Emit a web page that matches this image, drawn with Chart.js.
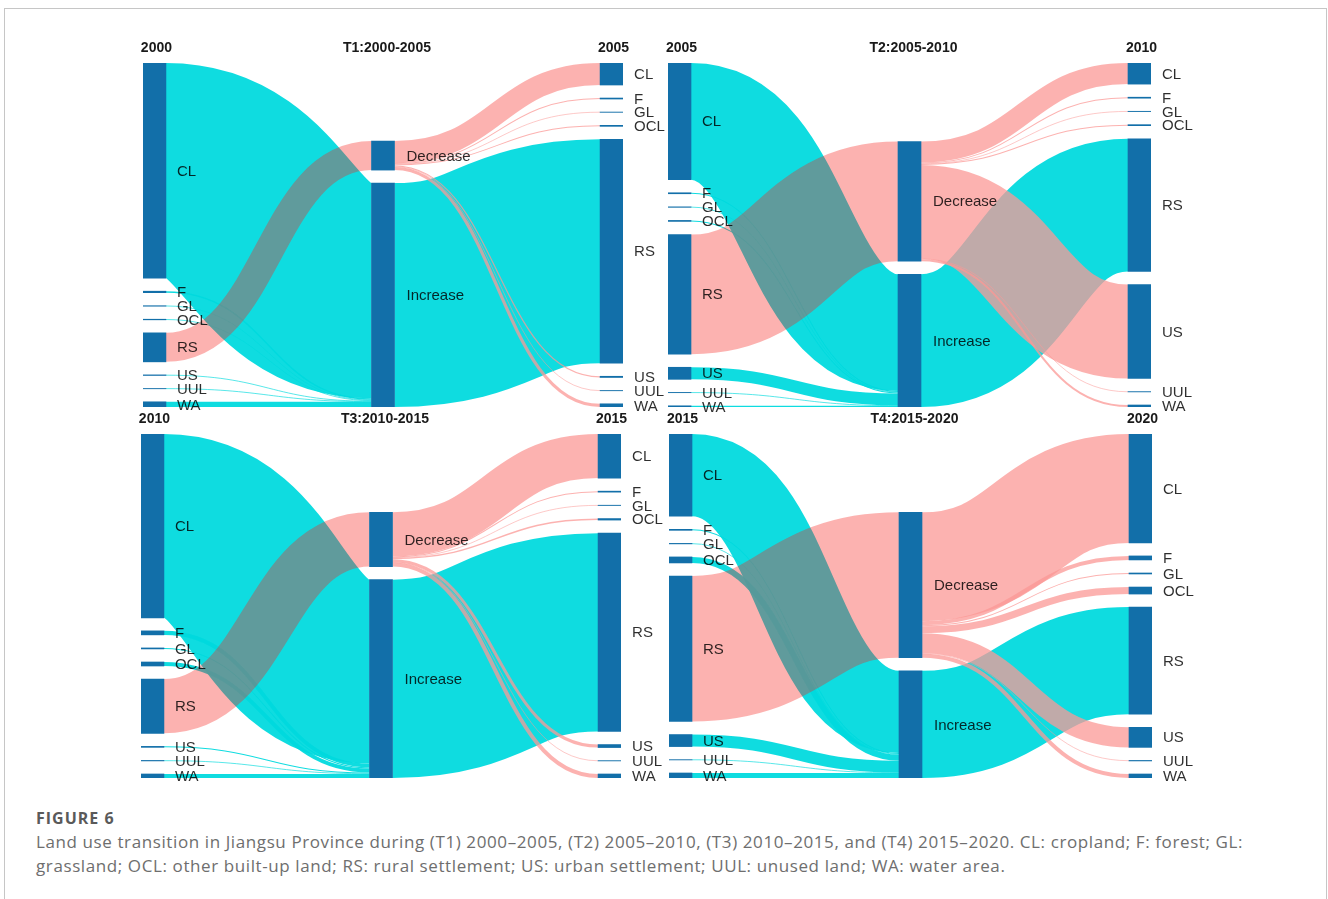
<!DOCTYPE html>
<html>
<head>
<meta charset="utf-8">
<script src="https://cdn.jsdelivr.net/npm/chart.js@4.4.1/dist/chart.umd.min.js"></script>
<style>
  body { margin: 0; background: #fff; width: 1328px; height: 899px; overflow: hidden; position: relative; }
  .frame { position: absolute; left: 4px; top: 8px; width: 1321px; height: 940px; border: 1px solid #c6c6c6; }
  canvas { position: absolute; }
  #c1 { left: 110px; top: 30px; }
  #c2 { left: 640px; top: 30px; }
  #c3 { left: 110px; top: 401px; }
  #c4 { left: 640px; top: 401px; }
  .fig { position: absolute; left: 36px; top: 810px; font-family: "Open Sans", sans-serif; font-weight: 700; font-size: 16px; line-height: 16px; letter-spacing: 1px; color: #5a5a5a; }
  .cap { position: absolute; left: 36px; top: 830px; font-family: "Open Sans", sans-serif; font-size: 17px; line-height: 24px; letter-spacing: 0.6px; color: #6e6e6e; white-space: nowrap; }
</style>
</head>
<body>
<div class="frame"></div>
<canvas id="c1" width="560" height="385"></canvas>
<canvas id="c2" width="580" height="385"></canvas>
<canvas id="c3" width="560" height="385"></canvas>
<canvas id="c4" width="580" height="385"></canvas>
<div class="fig">FIGURE 6</div>
<div class="cap">Land use transition in Jiangsu Province during (T1) 2000–2005, (T2) 2005–2010, (T3) 2010–2015, and (T4) 2015–2020. CL: cropland; F: forest; GL:<br>grassland; OCL: other built-up land; RS: rural settlement; US: urban settlement; UUL: unused land; WA: water area.</div>
<script>
// land types, same order in every column
var types = ['CL', 'F', 'GL', 'OCL', 'RS', 'US', 'UUL', 'WA'];
var middle = ['Decrease', 'Increase'];

// node sizes (start year column, end year column)
var t1Start = [215, 1.5, 0.5, 0.6, 29, 0.6, 0.3, 5.2];
var t1End   = [22, 1, 0.3, 1, 223.7, 1.2, 0.3, 3.2];
var t2Start = [116, 1, 0.5, 1, 119, 12, 0.3, 1.2];
var t2End   = [21, 1, 0.3, 1, 132, 93.4, 0.3, 2];
var t3Start = [183, 4, 1, 4, 54, 1, 0.5, 4];
var t3End   = [43.9, 1, 0.3, 1.5, 197.5, 3, 0.3, 4];
var t4Start = [82, 1, 0.5, 6, 145, 12, 0.3, 5];
var t4End   = [108.5, 4, 1, 7, 106.8, 20, 0.5, 4];

var panels = [
  { id: 'c1', title: 'T1:2000-2005', from: '2000', to: '2005', start: t1Start, end: t1End, pad: { left: 33, right: 47 } },
  { id: 'c2', title: 'T2:2005-2010', from: '2005', to: '2010', start: t2Start, end: t2End, pad: { left: 28, right: 69 } },
  { id: 'c3', title: 'T3:2010-2015', from: '2010', to: '2015', start: t3Start, end: t3End, pad: { left: 31, right: 49 } },
  { id: 'c4', title: 'T4:2015-2020', from: '2015', to: '2020', start: t4Start, end: t4End, pad: { left: 29, right: 68 } }
];

var gap = 13;
var RS = types.indexOf('RS');
var cyan = 'rgba(0,218,222,0.94)';
var pinkIn = 'rgba(246,35,29,0.35)';     // flows into Decrease
var pinkOut = 'rgba(251,152,150,0.75)';  // flows out of Decrease
var nodeColor = '#126fa9';

function sum(a) { return a.reduce(function(s, v) { return s + v; }, 0); }

function buildNodes(p) {
  var dec = 0, inc = 0, decOut = 0;
  p.start.forEach(function(v, i) { if (i === RS) dec += v; else inc += v; });
  p.end.forEach(function(v, i) { if (i !== RS) decOut += v; });
  dec = Math.max(dec, decOut);
  inc = Math.max(inc, p.end[RS]);
  var total = Math.max(sum(p.start) + 7 * gap, sum(p.end) + 7 * gap, dec + inc + gap);
  var nodes = [];
  var y = 0;
  p.start.forEach(function(v, i) { nodes.push({ x: 0, y: [y, y + v], name: types[i] }); y += v + gap; });
  var midTop = total - (dec + inc + gap);
  nodes.push({ x: 1, y: [midTop, midTop + dec], name: middle[0] });
  nodes.push({ x: 1, y: [midTop + dec + gap, total], name: middle[1] });
  y = 0;
  p.end.forEach(function(v, i) { nodes.push({ x: 2, y: [y, y + v], name: types[i] }); y += v + gap; });

  // links: start -> Decrease/Increase, Decrease/Increase -> end
  var links = [];
  var off = { 8: 0, 9: 0 };
  p.start.forEach(function(v, i) {
    var t = i === RS ? 8 : 9;
    links.push({ s: i, t: t, v: v, so: 0, to: off[t] });
    off[t] += v;
  });
  off = { 8: 0, 9: 0 };
  p.end.forEach(function(v, i) {
    var s = i === RS ? 9 : 8;
    links.push({ s: s, t: 10 + i, v: v, so: off[s], to: 0 });
    off[s] += v;
  });
  return { nodes: nodes, links: links, total: total };
}

function sankeyPlugin(g, p) {
  return {
    id: 'sankey',
    beforeDatasetsDraw: function(chart) {
      var ctx = chart.ctx;
      var ys = chart.scales.y;
      var els = chart.getDatasetMeta(0).data;
      ctx.save();
      ctx.lineCap = 'butt';
      // cyan links first, pink on top
      [9, 8].forEach(function(mid) {
        g.links.forEach(function(l) {
          if (l.s !== mid && l.t !== mid) return;
          var a = els[l.s], b = els[l.t];
          var x0 = a.x + a.width / 2, x1 = b.x - b.width / 2;
          var y0 = ys.getPixelForValue(g.nodes[l.s].y[0] + l.so + l.v / 2);
          var y1 = ys.getPixelForValue(g.nodes[l.t].y[0] + l.to + l.v / 2);
          var w = Math.abs(ys.getPixelForValue(l.v) - ys.getPixelForValue(0));
          var xm = (x0 + x1) / 2;
          ctx.beginPath();
          ctx.moveTo(x0, y0);
          ctx.bezierCurveTo(xm, y0, xm, y1, x1, y1);
          ctx.lineWidth = Math.max(w, 0.7);
          ctx.strokeStyle = mid === 9 ? cyan : (l.t === 8 ? pinkIn : pinkOut);
          ctx.stroke();
        });
      });
      ctx.restore();
    },
    afterDatasetsDraw: function(chart) {
      var ctx = chart.ctx;
      var xs = chart.scales.x, ys = chart.scales.y;
      var els = chart.getDatasetMeta(0).data;
      ctx.save();
      ctx.textBaseline = 'middle';
      ctx.textAlign = 'left';
      ctx.font = '15px "Liberation Sans", Arial, sans-serif';
      ctx.fillStyle = 'rgba(0,0,0,0.82)';
      g.nodes.forEach(function(n, i) {
        var el = els[i];
        var cy = ys.getPixelForValue((n.y[0] + n.y[1]) / 2);
        ctx.fillText(n.name, el.x + el.width / 2 + (n.x === 1 ? 12 : 11), cy + 1);
      });
      ctx.font = 'bold 14px "Liberation Sans", Arial, sans-serif';
      ctx.fillStyle = '#1a1a1a';
      ctx.textAlign = 'center';
      var ty = chart.chartArea.top - 15;
      ctx.fillText(p.from, xs.getPixelForValue(0) + 2, ty);
      ctx.fillText(p.title, xs.getPixelForValue(1) + 4, ty);
      ctx.fillText(p.to, xs.getPixelForValue(2) + 2, ty);
      ctx.restore();
    }
  };
}

panels.forEach(function(p) {
  var g = buildNodes(p);
  new Chart(document.getElementById(p.id), {
    type: 'bar',
    data: {
      datasets: [{
        data: g.nodes.map(function(n) { return { x: n.x, y: n.y }; }),
        backgroundColor: nodeColor,
        borderWidth: 0,
        barThickness: 23
      }]
    },
    options: {
      responsive: false,
      animation: false,
      layout: { padding: { top: 33, bottom: 8, left: p.pad.left, right: p.pad.right } },
      plugins: { legend: { display: false }, tooltip: { enabled: false } },
      scales: {
        x: { type: 'linear', min: -0.05, max: 2.05, offset: false, display: false },
        y: { type: 'linear', min: 0, max: g.total, reverse: true, display: false }
      }
    },
    plugins: [sankeyPlugin(g, p)]
  });
});
</script>
</body>
</html>
